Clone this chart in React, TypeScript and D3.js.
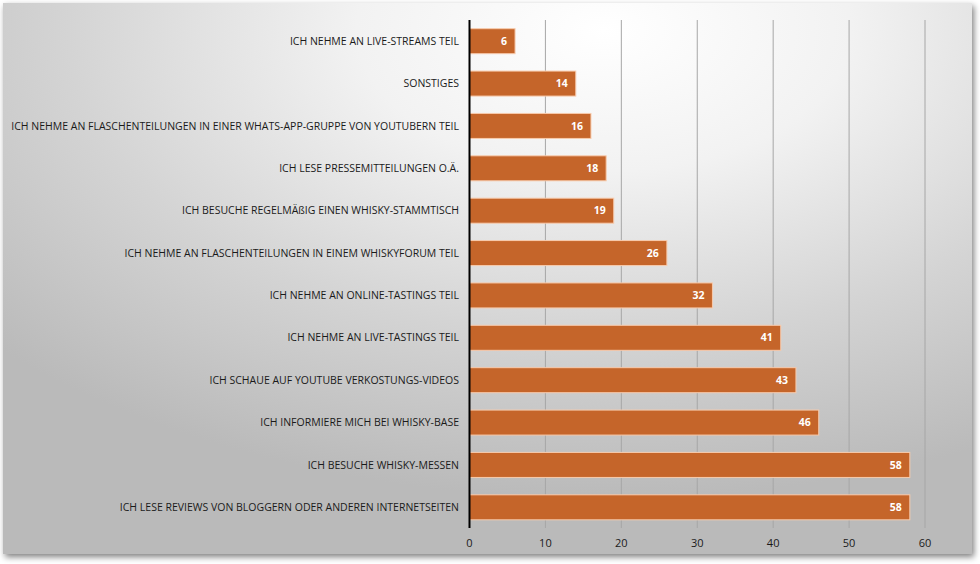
import React from "react";
import * as d3 from "d3";

const categories = [
  "ICH NEHME AN LIVE-STREAMS TEIL",
  "SONSTIGES",
  "ICH NEHME AN FLASCHENTEILUNGEN IN EINER WHATS-APP-GRUPPE VON YOUTUBERN TEIL",
  "ICH LESE PRESSEMITTEILUNGEN O.Ä.",
  "ICH BESUCHE REGELMÄßIG EINEN WHISKY-STAMMTISCH",
  "ICH NEHME AN FLASCHENTEILUNGEN IN EINEM WHISKYFORUM TEIL",
  "ICH NEHME AN ONLINE-TASTINGS TEIL",
  "ICH NEHME AN LIVE-TASTINGS TEIL",
  "ICH SCHAUE AUF YOUTUBE VERKOSTUNGS-VIDEOS",
  "ICH INFORMIERE MICH BEI WHISKY-BASE",
  "ICH BESUCHE WHISKY-MESSEN",
  "ICH LESE REVIEWS VON BLOGGERN ODER ANDEREN INTERNETSEITEN",
];
const values = [6, 14, 16, 18, 19, 26, 32, 41, 43, 46, 58, 58];
const ticks = [0, 10, 20, 30, 40, 50, 60];

const W = 980;
const H = 564;
const font = "'Open Sans', 'Liberation Sans', sans-serif";

export default function App() {
  const x = d3.scaleLinear().domain([0, 60]).range([469.5, 925]);
  const y = d3
    .scaleBand<string>()
    .domain(categories)
    .range([20, 528.5])
    .paddingInner(0.41)
    .paddingOuter(0.205);
  const bw = y.bandwidth();
  return (
    <svg
      width={W}
      height={H}
      style={{ position: "absolute", left: 0, top: 0, display: "block" }}
    >
      <defs>
        <radialGradient id="bg" cx="0.62" cy="0.05" r="0.85" gradientUnits="objectBoundingBox">
          <stop offset="0" stopColor="#ffffff" />
          <stop offset="0.3" stopColor="#f2f2f2" />
          <stop offset="0.65" stopColor="#d4d4d4" />
          <stop offset="1" stopColor="#bababa" />
        </radialGradient>
        <filter id="sh" x="-5%" y="-5%" width="110%" height="115%">
          <feGaussianBlur in="SourceAlpha" stdDeviation="3" />
          <feOffset dx="2" dy="3" result="b" />
          <feComponentTransfer>
            <feFuncA type="linear" slope="0.5" />
          </feComponentTransfer>
          <feMerge>
            <feMergeNode />
            <feMergeNode in="SourceGraphic" />
          </feMerge>
        </filter>
      </defs>
      <rect x={0} y={0} width={W} height={H} fill="#ffffff" />
      <rect x={3} y={3} width={969} height={551} fill="url(#bg)" filter="url(#sh)" />
      {ticks.slice(1).map((t) => (
        <line
          key={t}
          x1={x(t)}
          x2={x(t)}
          y1={20}
          y2={528}
          stroke="#a6a6a6"
          strokeWidth={1}
        />
      ))}
      {categories.map((c, i) => (
        <g key={c}>
          <rect
            x={x(0)}
            y={y(c)!}
            width={x(values[i]) - x(0)}
            height={bw}
            fill="#c5652a"
            stroke="#f8cbad"
            strokeWidth={1}
          />
          <text
            x={x(values[i]) - 8}
            y={y(c)! + bw / 2}
            dy="0.35em"
            textAnchor="end"
            fill="#ffffff"
            fontWeight="bold"
            fontSize={10.5}
            fontFamily={font}
          >
            {values[i]}
          </text>
          <text
            x={459}
            y={y(c)! + bw / 2}
            dy="0.35em"
            textAnchor="end"
            fill="#1a1a1a"
            fontSize={10.5}
            fontFamily={font}
          >
            {c}
          </text>
        </g>
      ))}
      <line x1={x(0)} x2={x(0)} y1={20} y2={528} stroke="#000000" strokeWidth={2} />
      {ticks.map((t) => (
        <text
          key={t}
          x={x(t)}
          y={543}
          dy="0.35em"
          textAnchor="middle"
          fill="#1a1a1a"
          fontSize={11}
          fontFamily={font}
        >
          {t}
        </text>
      ))}
    </svg>
  );
}
